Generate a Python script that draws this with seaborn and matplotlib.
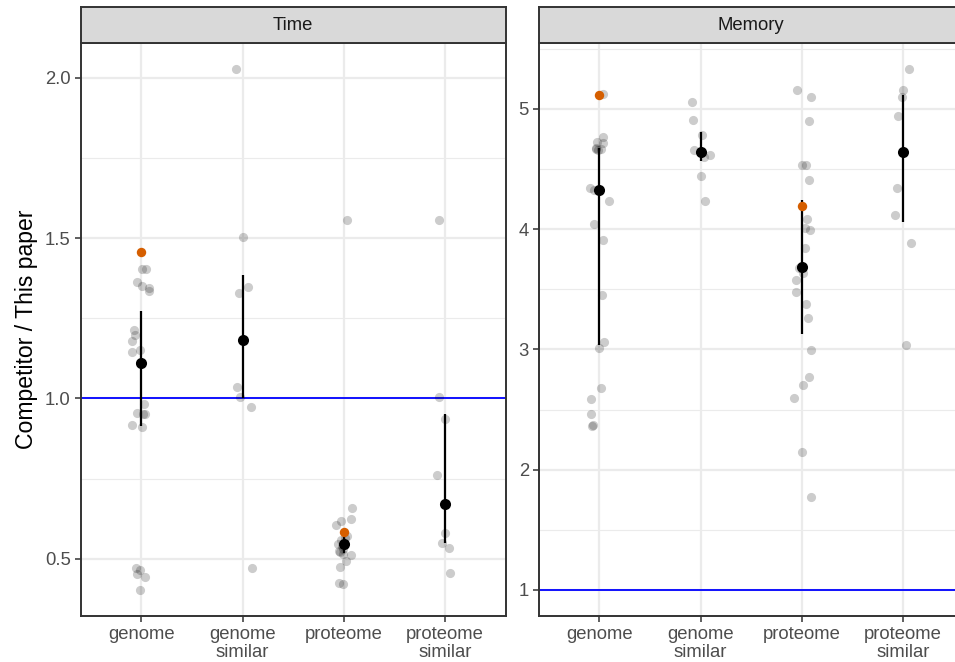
""" Competitor / This paper ratios for time and memory, faceted like ggplot theme_bw """

import numpy as np
import pandas as pd
import matplotlib
matplotlib.use("Agg")
import matplotlib.pyplot as plt
from matplotlib.ticker import MultipleLocator
import seaborn as sns

categories = ["genome", "genome similar", "proteome", "proteome similar"]
tick_labels = ["genome", "genome\nsimilar", "proteome", "proteome\nsimilar"]
facets = ["Time", "Memory"]

# individual ratios (gray jittered points)
time_genome = [1.405, 1.405, 1.364, 1.351, 1.343, 1.335, 1.214, 1.198, 1.179, 1.151, 1.146, 1.110,
               0.982, 0.954, 0.951, 0.950, 0.917, 0.912, 0.472, 0.464, 0.454, 0.444, 0.403]
time_genome_similar = [2.026, 1.502, 1.349, 1.329, 1.037, 1.003, 0.972, 0.472]
time_proteome = [1.556, 0.660, 0.623, 0.618, 0.604, 0.570, 0.565, 0.560, 0.545, 0.540, 0.530,
                 0.526, 0.522, 0.516, 0.513, 0.493, 0.474, 0.426, 0.421]
time_proteome_similar = [1.556, 1.005, 0.935, 0.760, 0.582, 0.550, 0.535, 0.457]

mem_genome = [5.122, 4.768, 4.728, 4.712, 4.672, 4.668, 4.665, 4.660, 4.343, 4.322, 4.230, 4.045,
              3.913, 3.451, 3.058, 3.015, 2.682, 2.590, 2.461, 2.375, 2.363]
mem_genome_similar = [5.058, 4.906, 4.782, 4.655, 4.613, 4.597, 4.442, 4.230]
mem_proteome = [5.158, 5.097, 4.896, 4.535, 4.530, 4.410, 4.083, 4.008, 3.994, 3.842, 3.678,
                3.634, 3.573, 3.473, 3.379, 3.260, 2.997, 2.769, 2.707, 2.597, 2.150, 1.776]
mem_proteome_similar = [5.328, 5.159, 5.097, 4.937, 4.343, 4.113, 3.882, 3.037]

# summary (black point + bar)
time_mid = [1.110, 1.182, 0.545, 0.670]
time_lo = [0.915, 1.000, 0.517, 0.548]
time_hi = [1.273, 1.386, 0.568, 0.950]
mem_mid = [4.322, 4.637, 3.681, 4.642]
mem_lo = [3.037, 4.562, 3.130, 4.055]
mem_hi = [4.673, 4.811, 4.238, 5.111]

# highlighted (orange) values
highlight_cats = ["genome", "proteome"]
time_highlight = [1.457, 0.585]
mem_highlight = [5.114, 4.194]

reference_line = 1.0

# ---------------------------------------------------------------- tables
rows = []
for facet, groups in zip(facets, [[time_genome, time_genome_similar, time_proteome, time_proteome_similar],
                                  [mem_genome, mem_genome_similar, mem_proteome, mem_proteome_similar]]):
    for cat, vals in zip(categories, groups):
        for v in vals:
            rows.append({"facet": facet, "category": cat, "ratio": v})
points = pd.DataFrame(rows)

summary = {
    "Time": pd.DataFrame({"category": categories, "mid": time_mid, "lo": time_lo, "hi": time_hi}),
    "Memory": pd.DataFrame({"category": categories, "mid": mem_mid, "lo": mem_lo, "hi": mem_hi}),
}
highlight = {
    "Time": pd.DataFrame({"category": highlight_cats, "ratio": time_highlight}),
    "Memory": pd.DataFrame({"category": highlight_cats, "ratio": mem_highlight}),
}
minor_step = {"Time": 0.25, "Memory": 0.5}
major_step = {"Time": 0.5, "Memory": 1.0}

# ---------------------------------------------------------------- style
sns.set_theme(style="white")
plt.rcParams['font.family'] = ['Liberation Sans', 'DejaVu Sans']

W, H = 955, 662
fig = plt.figure(figsize=(W / 100, H / 100), dpi=100)

grey20 = "#333333"
panel_top, panel_bottom = 43.3, 616.0
strip_top = 7.3
panel_lefts = [80.5, 538.5]
panel_w = 425.5

np.random.seed(3)

for i, facet in enumerate(facets):
    left = panel_lefts[i]
    ax = fig.add_axes([left / W, 1 - panel_bottom / H, panel_w / W, (panel_bottom - panel_top) / H])
    sax = fig.add_axes([left / W, 1 - panel_top / H, panel_w / W, (panel_top - strip_top) / H])

    # strip
    sax.set_facecolor("#D9D9D9")
    sax.set_xticks([])
    sax.set_yticks([])
    for sp in sax.spines.values():
        sp.set_color(grey20)
        sp.set_linewidth(1.4)
    sax.text(0.5, 0.5, facet, ha="center", va="center", fontsize=13.3, color="#1A1A1A",
             transform=sax.transAxes)

    sub = points[points["facet"] == facet]

    # y range: ggplot 5% expansion over data and the reference line
    lo_v = min(sub["ratio"].min(), reference_line)
    hi_v = max(sub["ratio"].max(), reference_line)
    pad = 0.05 * (hi_v - lo_v)

    ax.axhline(reference_line, color="blue", lw=1.3, zorder=2)

    sns.stripplot(data=sub, x="category", y="ratio", order=categories, ax=ax,
                  color="black", alpha=0.2, size=6.6, jitter=0.1, linewidth=0, zorder=3)

    s = summary[facet]
    xpos = np.arange(len(categories))
    ax.vlines(xpos, s["lo"], s["hi"], color="black", lw=1.6, zorder=4)
    sns.scatterplot(data=s, x=xpos, y="mid", ax=ax, color="black", s=64, linewidth=0, zorder=5)

    h = highlight[facet]
    hx = [categories.index(c) for c in h["category"]]
    sns.scatterplot(data=h, x=hx, y="ratio", ax=ax, color="#D55E00", s=46, linewidth=0, zorder=6)

    ax.set_xlim(-0.6, len(categories) - 0.4)
    ax.set_ylim(lo_v - pad, hi_v + pad)
    ax.set_xticks(xpos)
    ax.set_xticklabels(tick_labels, linespacing=1.12)
    ax.yaxis.set_major_locator(MultipleLocator(major_step[facet]))
    ax.yaxis.set_minor_locator(MultipleLocator(minor_step[facet]))
    if facet == "Time":
        ax.yaxis.set_major_formatter(matplotlib.ticker.FormatStrFormatter("%.1f"))
    else:
        ax.yaxis.set_major_formatter(matplotlib.ticker.FormatStrFormatter("%d"))

    ax.set_facecolor("white")
    ax.grid(which="major", color="#EBEBEB", lw=1.6, zorder=0)
    ax.grid(which="minor", axis="y", color="#EBEBEB", lw=0.8, zorder=0)
    ax.set_axisbelow(True)
    ax.tick_params(which="major", length=4, width=1.1, color=grey20, labelcolor="#4D4D4D",
                   labelsize=13.3, pad=3, left=True, bottom=True)
    ax.tick_params(which="minor", length=0)
    for sp in ax.spines.values():
        sp.set_color(grey20)
        sp.set_linewidth(1.4)
        sp.set_zorder(7)
    ax.set_xlabel("")
    if facet == "Time":
        ax.set_ylabel("Competitor / This paper", fontsize=16.6, color="black", labelpad=5)
    else:
        ax.set_ylabel("")

fig.savefig("out.png", dpi=100)
